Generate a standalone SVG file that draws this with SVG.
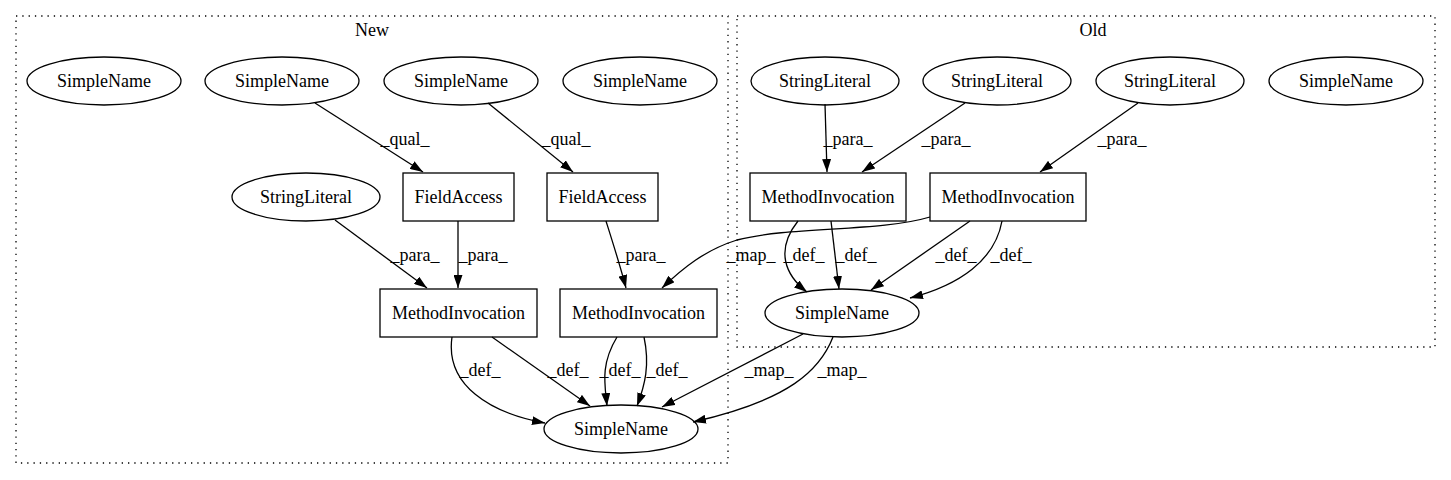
<svg xmlns="http://www.w3.org/2000/svg" width="1451" height="480" viewBox="0 0 1451 480">
<defs>
<marker id="ah" viewBox="0 0 13 9" refX="13" refY="4.5" markerWidth="13" markerHeight="9" markerUnits="userSpaceOnUse" orient="auto">
<path d="M0,0 L13,4.5 L0,9 z" fill="#000"/>
</marker>
<style>
text{font-family:"Liberation Serif","Times New Roman",serif;font-size:18px;fill:#000;text-anchor:middle}
.cl{fill:none;stroke:#000;stroke-width:1.3;stroke-dasharray:1.3,5}
.n{fill:none;stroke:#000;stroke-width:1.3}
.e{fill:none;stroke:#000;stroke-width:1.3;marker-end:url(#ah)}
</style>
</defs>
<rect width="1451" height="480" fill="#fff"/>
<g id="cluster_new">
<rect class="cl" x="16" y="16" width="712" height="447"/>
<text x="372" y="36">New</text>
</g>
<g id="cluster_old">
<rect class="cl" x="737" y="16" width="698" height="331"/>
<text x="1093" y="36">Old</text>
</g>
<g id="n1"><ellipse class="n" cx="104" cy="81" rx="77" ry="24"/><text x="104" y="87">SimpleName</text></g>
<g id="n2"><ellipse class="n" cx="282" cy="81" rx="77" ry="24"/><text x="282" y="87">SimpleName</text></g>
<g id="n3"><ellipse class="n" cx="461" cy="81" rx="77" ry="24"/><text x="461" y="87">SimpleName</text></g>
<g id="n4"><ellipse class="n" cx="640" cy="81" rx="77" ry="24"/><text x="640" y="87">SimpleName</text></g>
<g id="n5"><ellipse class="n" cx="306" cy="197" rx="74" ry="24"/><text x="306" y="203">StringLiteral</text></g>
<g id="n6"><rect class="n" x="403" y="173" width="111" height="48"/><text x="458.5" y="203">FieldAccess</text></g>
<g id="n7"><rect class="n" x="547" y="173" width="111" height="48"/><text x="602.5" y="203">FieldAccess</text></g>
<g id="n8"><rect class="n" x="380" y="289" width="157" height="48"/><text x="458.5" y="319">MethodInvocation</text></g>
<g id="n9"><rect class="n" x="560" y="289" width="157" height="48"/><text x="638.5" y="319">MethodInvocation</text></g>
<g id="n10"><ellipse class="n" cx="621" cy="429" rx="77" ry="24"/><text x="621" y="435">SimpleName</text></g>
<g id="o1"><ellipse class="n" cx="825" cy="81" rx="74" ry="24"/><text x="825" y="87">StringLiteral</text></g>
<g id="o2"><ellipse class="n" cx="997" cy="81" rx="74" ry="24"/><text x="997" y="87">StringLiteral</text></g>
<g id="o3"><ellipse class="n" cx="1170" cy="81" rx="74" ry="24"/><text x="1170" y="87">StringLiteral</text></g>
<g id="o4"><ellipse class="n" cx="1346" cy="81" rx="77" ry="24"/><text x="1346" y="87">SimpleName</text></g>
<g id="o5"><rect class="n" x="750" y="173" width="156" height="48"/><text x="828" y="203">MethodInvocation</text></g>
<g id="o6"><rect class="n" x="930" y="173" width="156" height="48"/><text x="1008" y="203">MethodInvocation</text></g>
<g id="o7"><ellipse class="n" cx="842" cy="313" rx="77" ry="24"/><text x="842" y="319">SimpleName</text></g>
<g id="edges">
<path class="e" d="M315,103 L423,172"/><text x="405" y="145">_qual_</text>
<path class="e" d="M488,103 L573,172"/><text x="566" y="145">_qual_</text>
<path class="e" d="M335,220 L427,288"/><text x="415" y="261">_para_</text>
<path class="e" d="M458,221 L458,288"/><text x="483" y="261">_para_</text>
<path class="e" d="M606,221 C612,240 620,265 626,288"/><text x="641" y="261">_para_</text>
<path class="e" d="M930,217 C880,232 790,226 737,240 C705,250 683,268 662,288"/><text x="751" y="261">_map_</text>
<path class="e" d="M452,337 C445,385 490,413 545,423"/><text x="480" y="376">_def_</text>
<path class="e" d="M492,337 L590,406"/><text x="568" y="376">_def_</text>
<path class="e" d="M617,337 C600,365 605,385 607,406"/><text x="620" y="376">_def_</text>
<path class="e" d="M644,337 C650,365 645,385 637,406"/><text x="667" y="376">_def_</text>
<path class="e" d="M803,334 L662,407"/><text x="769" y="376">_map_</text>
<path class="e" d="M833,337 C820,370 790,400 693,422"/><text x="842" y="376">_map_</text>
<path class="e" d="M825,104 L827,172"/><text x="848" y="145">_para_</text>
<path class="e" d="M965,103 L862,172"/><text x="946" y="145">_para_</text>
<path class="e" d="M1138,103 L1040,172"/><text x="1122" y="145">_para_</text>
<path class="e" d="M798,221 C775,250 785,275 807,292"/><text x="804" y="261">_def_</text>
<path class="e" d="M831,221 L839,289"/><text x="856" y="261">_def_</text>
<path class="e" d="M970,221 L871,290"/><text x="956" y="261">_def_</text>
<path class="e" d="M1002,221 C995,260 960,285 910,298"/><text x="1011" y="261">_def_</text>
</g>
</svg>
